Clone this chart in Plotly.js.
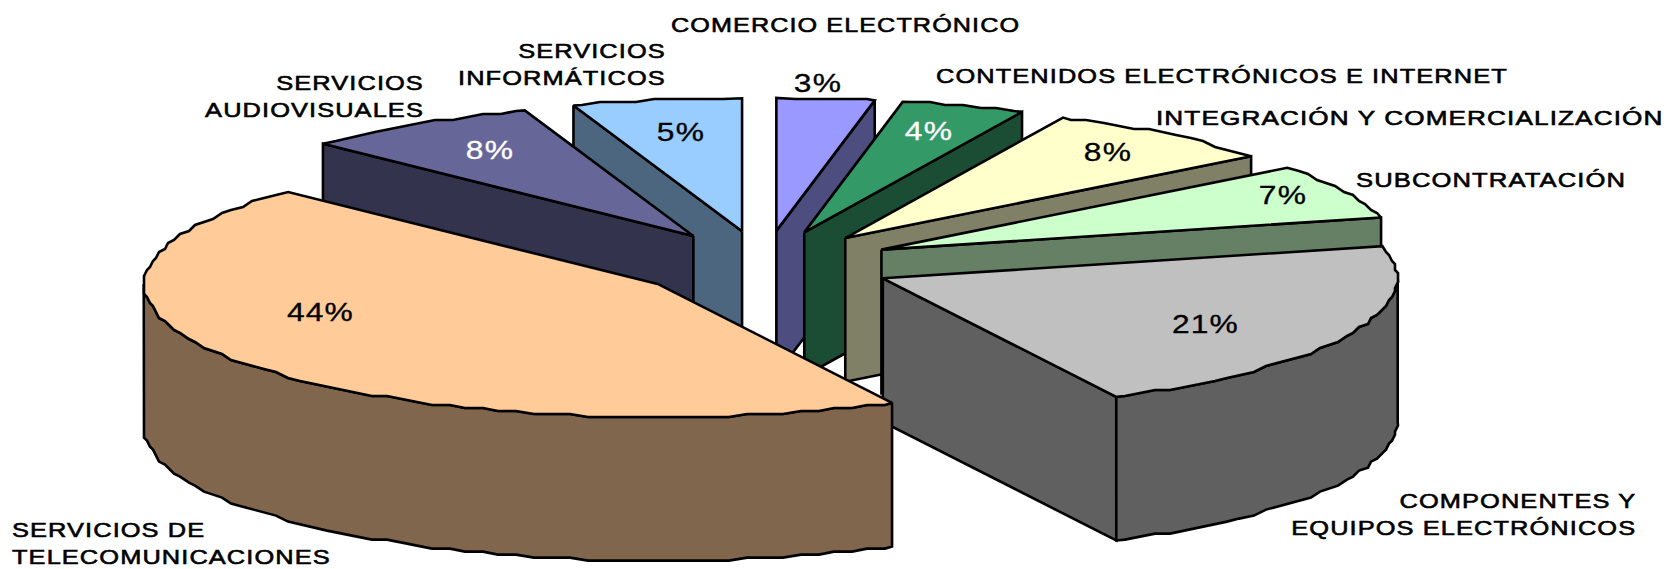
<!DOCTYPE html>
<html><head><meta charset="utf-8">
<script src="https://cdn.plot.ly/plotly-3.0.1.min.js"></script>
<style>
html,body{margin:0;padding:0;background:#fff}
#chart{width:1668px;height:569px}
.annotation-text{letter-spacing:.9px;transform-box:fill-box}
</style></head><body><div id="chart"></div>
<script>
// Clockwise from 12 o'clock
const categories = ["COMERCIO ELECTRÓNICO","CONTENIDOS ELECTRÓNICOS E INTERNET","INTEGRACIÓN Y COMERCIALIZACIÓN","SUBCONTRATACIÓN","COMPONENTES Y<br>EQUIPOS ELECTRÓNICOS","SERVICIOS DE<br>TELECOMUNICACIONES","SERVICIOS<br>AUDIOVISUALES","SERVICIOS<br>INFORMÁTICOS"];
const values = [3.06,3.89,7.5,6.67,21.39,44.71,7.47,5.31];
const percentLabels = ["3%","4%","8%","7%","21%","44%","8%","5%"];
const topColors = ["#9999FF","#339966","#FFFFCC","#CCFFCC","#C0C0C0","#FFCC99","#666699","#99CCFF"];
const sideColors = ["#4D4D80","#1A4D33","#808066","#668066","#606060","#80664D","#33334D","#4D6680"];
const pctColors = ["#000","#fff","#000","#000","#000","#000","#fff","#000"];
const paintOrder = [7,0,1,2,3,6,4,5];

// Layout of the drawing (page pixels)
const K = 1668/1568;
const CX=718*K, CY=248.5*K, RX=484*K, RY=125*K, DEPTH=135*K, PX=123*K, PY=31.6*K;
const catPos = [[629,23,"left"],[878,71,"left"],[1085,110,"left"],[1273,169,"left"],[1540,483,"right"],[9,510,"left"],[400,90,"right"],[628,60,"right"]];
const catStretch = [1.2,1.21,1.245,1.22,1.21,1.21,1.21,1.21];
const pctPos = [[769,78],[873,123],[1042,143],[1206,183],[1133,305],[301,293],[461,141],[640,124]];

const rad = d => d*Math.PI/180;
const snap = v => Math.round(v/3)*3;
const total = values.reduce((a,b)=>a+b,0);
let acc = 0;
const slices = values.map((v,i)=>{
  const s = acc/total*360; acc += v; const e = acc/total*360; const m=(s+e)/2;
  return {i,s,e,ax:CX+Math.sin(rad(m))*PX, ay:CY-Math.cos(rad(m))*PY};
});
function pt(sl,t,dz=0){return [sl.ax+Math.sin(rad(t))*RX, sl.ay-Math.cos(rad(t))*RY+dz];}
const STEP=2;
function arc(sl,a,b,dz=0){
  const out=[pt(sl,a,dz)];
  for(let t=Math.ceil((a+0.5)/STEP)*STEP;t<b-0.5;t+=STEP){const p=pt(sl,t); out.push([snap(p[0]),snap(p[1])+dz]);}
  out.push(pt(sl,b,dz)); return out;
}
function poly(pts,color){
  const c=pts.concat([pts[0]]);
  return {type:"scatter",mode:"lines",x:c.map(p=>p[0]),y:c.map(p=>p[1]),fill:"toself",fillcolor:color,
    line:{color:"#000",width:2.6,shape:"linear"},hoverinfo:"skip",showlegend:false};
}
const traces=[];
paintOrder.forEach(idx=>{
  const sl=slices[idx], side=sideColors[idx], a=[sl.ax,sl.ay];
  const wall=t=>{const p=pt(sl,t);traces.push(poly([a,p,[p[0],p[1]+DEPTH],[a[0],a[1]+DEPTH]],side));};
  if(Math.sin(rad(sl.s))<-1e-6) wall(sl.s);
  if(Math.sin(rad(sl.e))>1e-6) wall(sl.e);
  const lo=Math.max(sl.s,90), hi=Math.min(sl.e,270);
  if(hi>lo) traces.push(poly(arc(sl,lo,hi).concat(arc(sl,lo,hi,DEPTH).reverse()),side));
  traces.push(poly([a].concat(arc(sl,sl.s,sl.e)),topColors[idx]));
});
const annotations=[];
categories.forEach((c,i)=>{
  const [x,y,al]=catPos[i];
  annotations.push({x:x*K,y:y*K,text:c,showarrow:false,xanchor:al,yanchor:"middle",align:al,xref:"x",yref:"y",
    font:{family:"Liberation Sans, Arial, sans-serif",size:21,color:"#000"}});
});
percentLabels.forEach((c,i)=>{
  annotations.push({x:pctPos[i][0]*K,y:pctPos[i][1]*K,text:c,showarrow:false,xanchor:"center",yanchor:"middle",xref:"x",yref:"y",
    font:{family:"Liberation Sans, Arial, sans-serif",size:25,color:pctColors[i]}});
});
Plotly.newPlot("chart",traces,{
  width:1668,height:569,margin:{l:0,r:0,t:0,b:0},paper_bgcolor:"#fff",plot_bgcolor:"#fff",showlegend:false,
  xaxis:{range:[0,1668],visible:false,fixedrange:true},
  yaxis:{range:[569,0],visible:false,fixedrange:true},
  annotations
},{displayModeBar:false,staticPlot:true}).then(()=>{
  // The reference's lettering is horizontally stretched and slightly heavy
  document.querySelectorAll(".annotation-text").forEach((t,i)=>{
    const isCat=i<categories.length;
    const al=isCat?catPos[i][2]:"center";
    t.style.transformOrigin=al==="left"?"0% 50%":al==="right"?"100% 50%":"50% 50%";
    t.style.transform="scaleX("+(isCat?catStretch[i]:1.27)+")";
    t.style.stroke=isCat?"#000":pctColors[i-categories.length];
    t.style.strokeWidth=isCat?"0.6px":"0.3px";
  });
});
</script></body></html>
